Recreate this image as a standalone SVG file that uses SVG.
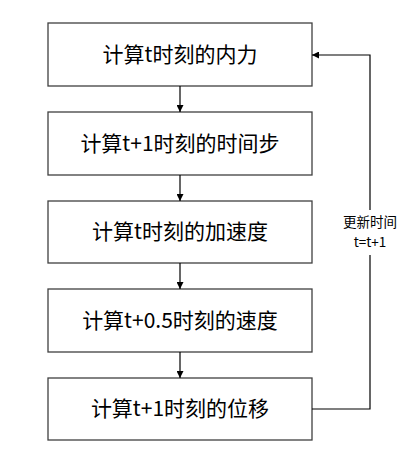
<svg xmlns="http://www.w3.org/2000/svg" width="417" height="451" viewBox="0 0 417 451">
<style>
.box{fill:#fff;stroke:#404040;stroke-width:1.3}
.t{font-family:"Microsoft YaHei","Noto Sans CJK SC",sans-serif;font-size:21px;fill:#000;text-anchor:middle}
.s{font-family:"Microsoft YaHei","Noto Sans CJK SC",sans-serif;font-size:13.5px;fill:#000;text-anchor:middle}
.c{fill:none;stroke:#000;stroke-width:1.2}
</style>
<defs>
<marker id="a" viewBox="0 0 10 10" refX="10" refY="5" markerWidth="7" markerHeight="7" markerUnits="userSpaceOnUse" orient="auto"><path d="M0,0L10,5L0,10z" fill="#000"/></marker>
</defs>
<rect width="417" height="451" fill="#fff"/>
<g id="n1"><rect class="box" x="48" y="23" width="264" height="63"/><text class="t" x="180" y="62">计算t时刻的内力</text></g>
<g id="n2"><rect class="box" x="48" y="112" width="264" height="63"/><text class="t" x="180" y="151">计算t+1时刻的时间步</text></g>
<g id="n3"><rect class="box" x="48" y="201" width="264" height="62"/><text class="t" x="180" y="239">计算t时刻的加速度</text></g>
<g id="n4"><rect class="box" x="48" y="289" width="264" height="63"/><text class="t" x="180" y="328">计算t+0.5时刻的速度</text></g>
<g id="n5"><rect class="box" x="48" y="378" width="264" height="62"/><text class="t" x="180" y="416">计算t+1时刻的位移</text></g>
<g id="connectors">
<line class="c" x1="180" y1="86" x2="180" y2="112" marker-end="url(#a)"/>
<line class="c" x1="180" y1="175" x2="180" y2="201" marker-end="url(#a)"/>
<line class="c" x1="180" y1="263" x2="180" y2="289" marker-end="url(#a)"/>
<line class="c" x1="180" y1="352" x2="180" y2="378" marker-end="url(#a)"/>
<polyline class="c" points="312,409 370,409 370,255"/>
<polyline class="c" points="370,210 370,55 312,55" marker-end="url(#a)"/>
<text class="s" x="370" y="227">更新时间</text>
<text class="s" x="370" y="247">t=t+1</text>
</g>
</svg>
